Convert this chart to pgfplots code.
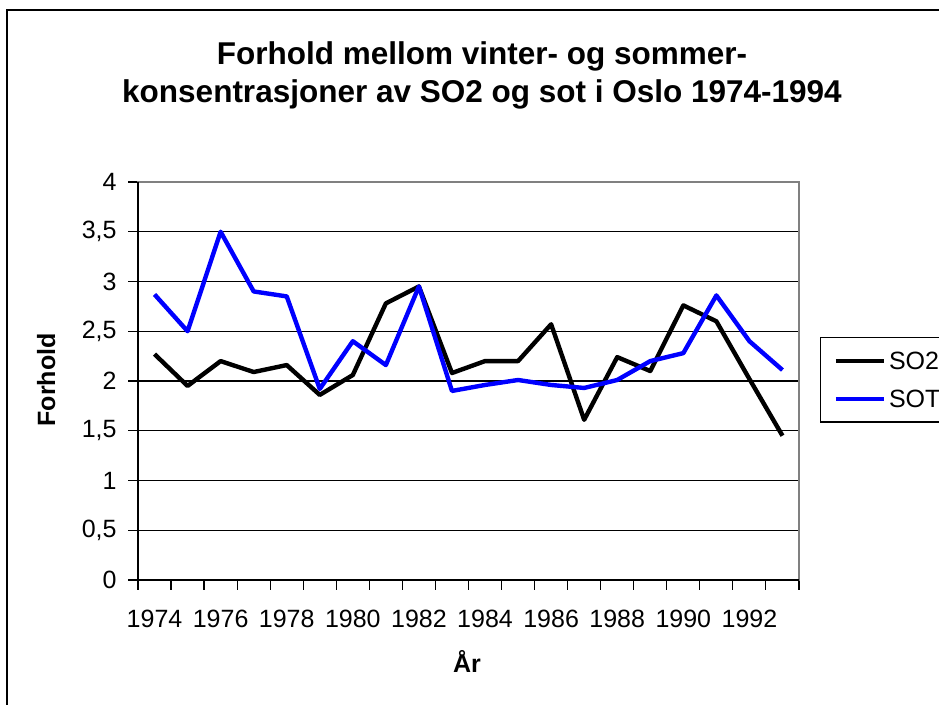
\documentclass[border=0pt]{standalone}
\usepackage{fontspec}
\setmainfont{Liberation Sans}
\usepackage{pgfplots}
\pgfplotsset{compat=1.18}
\definecolor{xlGrey}{HTML}{808080}
\definecolor{xlBlue}{HTML}{0000FF}
% 1 px of the reference = 0.5pt
\newcommand{\bodyfont}{\fontsize{12.5}{15}\selectfont}
\begin{document}
\begin{tikzpicture}
\begin{axis}[
  at={(69pt,62.5pt)}, anchor=south west,
  scale only axis, width=330.5pt, height=199pt,
  xmin=1973.5, xmax=1993.5, ymin=0, ymax=4,
  xtick={1974,1976,...,1992},
  minor xtick={1973.5,1974.5,...,1993.5},
  ytick={0,0.5,...,4},
  major x tick style={draw=none},
  minor x tick style={black, line width=0.6pt},
  major y tick style={black, line width=0.6pt},
  major tick length=5pt, minor tick length=5pt,
  tick align=outside, tickpos=left,
  ymajorgrids, grid style={black, line width=0.6pt},
  axis line style={xlGrey, line width=0.6pt},
  /pgf/number format/.cd, use comma, 1000 sep={}, assume math mode=true,
  /pgfplots/.cd,
  tick label style={font=\bodyfont},
  yticklabel style={anchor=east, inner sep=0pt, xshift=-5.5pt},
  xticklabel style={anchor=base, inner sep=0pt, yshift=-19pt},
  legend style={at={(1.0318,0.6106)}, anchor=north west, draw=black,
    line width=0.6pt, font=\bodyfont, inner xsep=6.5pt, inner ysep=7.1pt,
    row sep=10pt, nodes={inner xsep=1.5pt, inner ysep=0pt, text height=9pt, text depth=0pt}},
  legend cell align=left,
  legend image code/.code={\draw[#1] (0pt,0pt) -- (24pt,0pt);},
  clip=false,
]
\addplot[black, line width=2.2pt, line join=round] coordinates {
  (1974,2.27) (1975,1.95) (1976,2.20) (1977,2.09) (1978,2.16)
  (1979,1.86) (1980,2.06) (1981,2.78) (1982,2.95) (1983,2.08)
  (1984,2.20) (1985,2.20) (1986,2.57) (1987,1.61) (1988,2.24)
  (1989,2.10) (1990,2.76) (1991,2.60) (1992,2.02) (1993,1.45)};
\addlegendentry{SO2}
\addplot[xlBlue, line width=2.2pt, line join=round] coordinates {
  (1974,2.87) (1975,2.50) (1976,3.50) (1977,2.90) (1978,2.85)
  (1979,1.92) (1980,2.40) (1981,2.16) (1982,2.95) (1983,1.90)
  (1984,1.96) (1985,2.01) (1986,1.96) (1987,1.93) (1988,2.01)
  (1989,2.20) (1990,2.28) (1991,2.86) (1992,2.40) (1993,2.11)};
\addlegendentry{SOT}
% plot-area frame: grey top/right, black axes left/bottom
\draw[xlGrey, line width=0.6pt] (rel axis cs:0,1) -- (rel axis cs:1,1) -- (rel axis cs:1,0);
\draw[black, line width=1pt] (rel axis cs:0,1) -- (rel axis cs:0,0) -- (rel axis cs:1,0);
\end{axis}
% titles and axis labels
\node[anchor=base, font=\bfseries\fontsize{15.75}{19}\selectfont] at (241pt,320pt) {Forhold mellom vinter- og sommer-};
\node[anchor=base, font=\bfseries\fontsize{15.75}{19}\selectfont] at (241pt,301pt) {konsentrasjoner av SO2 og sot i Oslo 1974-1994};
\node[anchor=base, font=\bfseries\bodyfont] at (233.5pt,16pt) {År};
\node[anchor=base, rotate=90, font=\bfseries\bodyfont] at (27.5pt,162.5pt) {Forhold};
% chart frame (cut by the picture edge)
\draw[black, line width=1pt] (3.5pt,0pt) -- (3.5pt,347.5pt) -- (480pt,347.5pt);
\pgfresetboundingbox
\useasboundingbox (0pt,0pt) rectangle (469.5pt,352.5pt);
\end{tikzpicture}
\end{document}
